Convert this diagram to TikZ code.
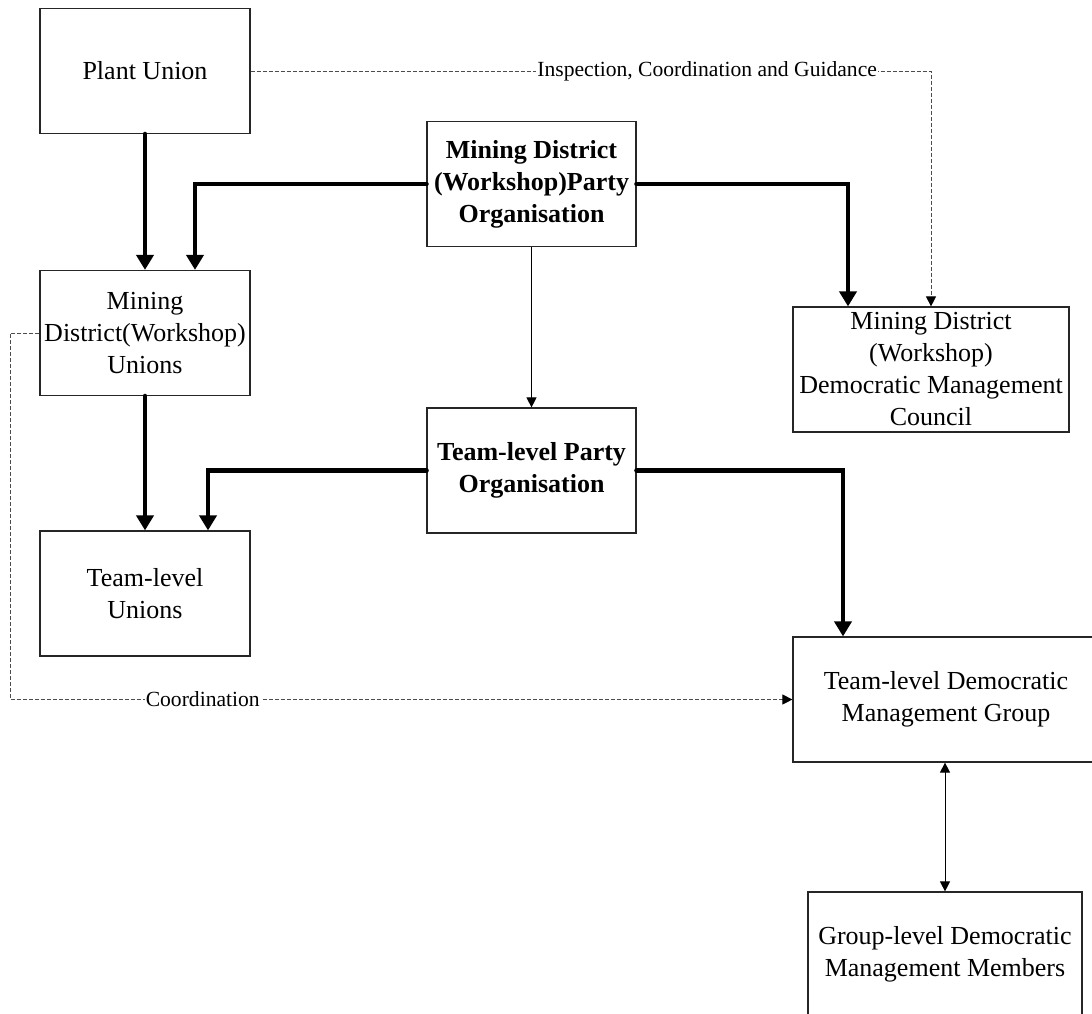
\documentclass[tikz,border=0pt]{standalone}
\usepackage{fontspec}
\setmainfont{Liberation Serif}
\usetikzlibrary{arrows.meta}

\begin{document}
\begin{tikzpicture}[x=0.5pt,y=-0.5pt,
  unit/.style={draw=black!85, line width=0.6pt, inner sep=0pt, align=center, minimum height=62.5pt, font=\fontsize{13}{16}\selectfont},
  party/.style={unit, font=\fontsize{13}{16}\selectfont\bfseries},
  heavy/.style={line width=2.4pt, line cap=round, -{Triangle[length=7.5pt,width=8.5pt]}},
  light/.style={line width=0.5pt, -{Triangle[length=5pt,width=5pt]}},
  twoway/.style={line width=0.5pt, {Triangle[length=5pt,width=5pt]}-{Triangle[length=5pt,width=5pt]}},
  guide/.style={black!70, line width=0.5pt, dash pattern=on 2pt off 1pt, -{Triangle[length=5pt,width=5pt,color=black]}},
  lbl/.style={fill=white, inner sep=0.5pt, text=black, font=\fontsize{10.8}{13}\selectfont}]
\useasboundingbox (0,0) rectangle (1092,1013);

\node[unit, minimum width=105pt] (plant) at (145,71) {Plant Union};
\node[party, minimum width=104.5pt] (mdparty) at (531.5,184) {Mining District\\(Workshop)Party\\Organisation};
\node[unit, minimum width=105pt] (mdunion) at (145,333) {Mining\\District(Workshop)\\Unions};
\node[unit, minimum width=138pt] (mdcouncil) at (931,369.5) {Mining District\\(Workshop)\\Democratic Management\\Council};
\node[party, minimum width=104.5pt] (tlparty) at (531.5,470.5) {Team-level Party\\Organisation};
\node[unit, minimum width=105pt] (tlunion) at (145,593.5) {Team-level\\Unions};
\node[unit, minimum width=153pt] (tlgroup) at (946,699.5) {Team-level Democratic\\Management Group};
\node[unit, minimum width=137pt] (glmember) at (945,954.5) {Group-level Democratic\\Management Members};

\draw[heavy] (plant.south) -- (mdunion.north);
\draw[heavy] (mdparty.west) -| ([xshift=25pt]mdunion.north);
\draw[heavy] (mdparty.east) -| ([xshift=-41.5pt]mdcouncil.north);
\draw[light] (mdparty.south) -- (tlparty.north);
\draw[heavy] (mdunion.south) -- (tlunion.north);
\draw[heavy] (tlparty.west) -| ([xshift=31.5pt]tlunion.north);
\draw[heavy] (tlparty.east) -| ([xshift=-51.5pt]tlgroup.north);
\draw[twoway] (glmember.north |- tlgroup.south) -- (glmember.north);

\draw[guide] (plant.east) -- node[lbl, pos=0.671] {Inspection, Coordination and Guidance} (plant.east -| mdcouncil.north) -- (mdcouncil.north);
\draw[guide] (mdunion.west) -- ++(-29,0) |- node[lbl, pos=0.623] {Coordination} (tlgroup.west);
\end{tikzpicture}
\end{document}
